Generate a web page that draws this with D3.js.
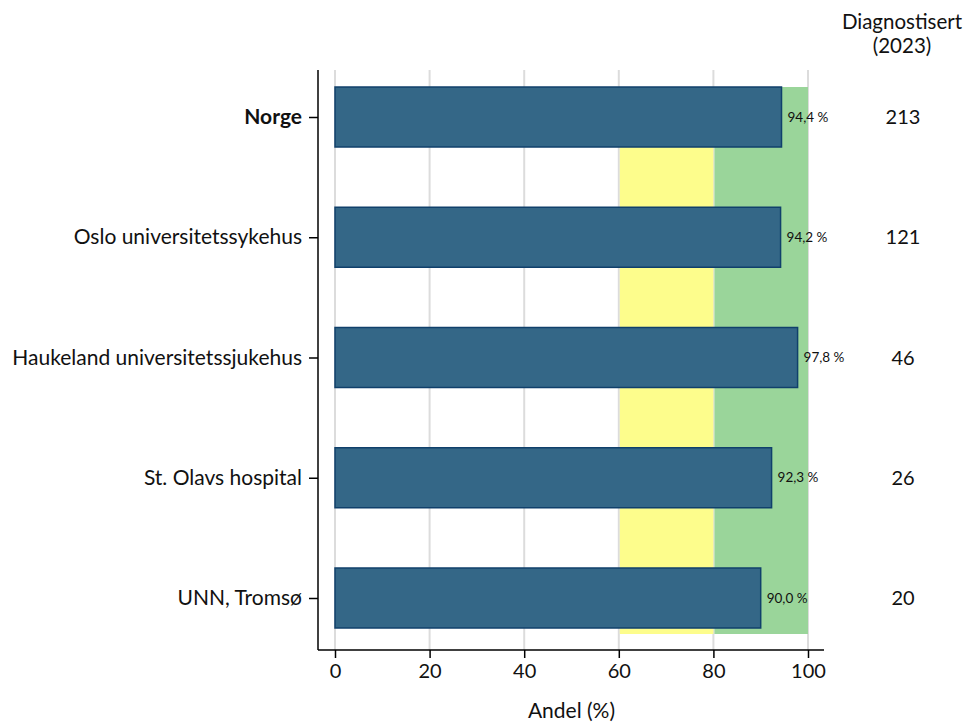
<!DOCTYPE html>
<html><head><meta charset="utf-8">
<script src="https://cdn.jsdelivr.net/npm/d3@7"></script>
<style>body{margin:0;background:#fff;} text{font-family:Lato,"Open Sans",sans-serif;}</style>
</head><body>
<svg id="c" width="966" height="722"></svg>
<script>
const categories = ["Norge","Oslo universitetssykehus","Haukeland universitetssjukehus","St. Olavs hospital","UNN, Tromsø"];
const values = [94.4, 94.2, 97.8, 92.3, 90.0];
const counts = [213, 121, 46, 26, 20];
const xTicks = [0,20,40,60,80,100];
const bands = [{from:60,to:80,color:"#fdfd8c"},{from:80,to:100,color:"#9ad59a"}];

const svg = d3.select("#c");
const x = d3.scaleLinear().domain([0,100]).range([335,808]);
const y = d3.scalePoint().domain(categories).range([117,598]);
const barH = 60;
const pTop = 70, pBottom = 650, pLeft = 318, pRight = 824;
const bandY0 = y(categories[0])-barH/2, bandY1 = y(categories[categories.length-1])+barH/2+6;

// gridlines
svg.selectAll("line.grid").data(xTicks).enter().append("line")
  .attr("x1", d=>x(d)).attr("x2", d=>x(d)).attr("y1", pTop).attr("y2", pBottom)
  .attr("stroke", "#dcdcdc").attr("stroke-width", 2);

// bands (cover gridlines)
svg.selectAll("rect.band").data(bands).enter().append("rect")
  .attr("x", d=>x(d.from)+1).attr("width", d=>x(d.to)-x(d.from)-1)
  .attr("y", bandY0).attr("height", bandY1-bandY0)
  .attr("fill", d=>d.color);

// bars
svg.selectAll("rect.bar").data(categories).enter().append("rect")
  .attr("x", x(0)).attr("y", d=>y(d)-barH/2)
  .attr("width", (d,i)=>x(values[i])-x(0)).attr("height", barH)
  .attr("fill", "#346787").attr("stroke", "#10406b").attr("stroke-width", 1.5);

// value labels
svg.selectAll("text.val").data(categories).enter().append("text")
  .attr("x", (d,i)=>x(values[i])+6).attr("y", d=>y(d)+4.5)
  .attr("font-size", 13.5).attr("fill", "#111")
  .text((d,i)=>values[i].toFixed(1).replace(".",",")+" %");

// axes
const xAxis = d3.axisBottom(x).tickValues(xTicks).tickSize(8).tickSizeOuter(0).tickPadding(6).tickFormat(d3.format("d"));
const gx = svg.append("g").attr("transform", `translate(0,${pBottom})`).call(xAxis);
gx.select(".domain").remove();
gx.append("line").attr("x1", pLeft).attr("x2", pRight).attr("stroke", "#000").attr("stroke-width", 1.5);
gx.selectAll(".tick line").attr("stroke","#000").attr("stroke-width",1.5);
gx.selectAll(".tick text").attr("font-size", 20).attr("fill","#111").style("font-family","Lato,sans-serif");

const yAxis = d3.axisLeft(y).tickSize(9).tickSizeOuter(0).tickPadding(7);
const gy = svg.append("g").attr("transform", `translate(${pLeft},0)`).call(yAxis);
gy.select(".domain").remove();
gy.append("line").attr("y1", pTop).attr("y2", pBottom).attr("stroke", "#000").attr("stroke-width", 1.5);
gy.selectAll(".tick line").attr("stroke","#000").attr("stroke-width",1.5);
gy.selectAll(".tick text").attr("font-size", 21).attr("fill","#111").style("font-family","Lato,sans-serif")
  .attr("font-weight", d=>d==="Norge"?"bold":"normal");

svg.append("text").attr("x", (x(0)+x(100))/2).attr("y", 718).attr("text-anchor","middle")
  .attr("font-size", 21).attr("fill","#111").text("Andel (%)");

// counts
svg.selectAll("text.cnt").data(categories).enter().append("text")
  .attr("x", 903).attr("y", d=>y(d)+7).attr("text-anchor","middle")
  .attr("font-size", 20).attr("fill","#111").text((d,i)=>counts[i]);

svg.append("text").attr("x", 902).attr("y", 29).attr("text-anchor","middle").attr("font-size",20.5).attr("fill","#111").text("Diagnostisert");
svg.append("text").attr("x", 902).attr("y", 53).attr("text-anchor","middle").attr("font-size",20.5).attr("fill","#111").text("(2023)");
</script>
</body></html>
